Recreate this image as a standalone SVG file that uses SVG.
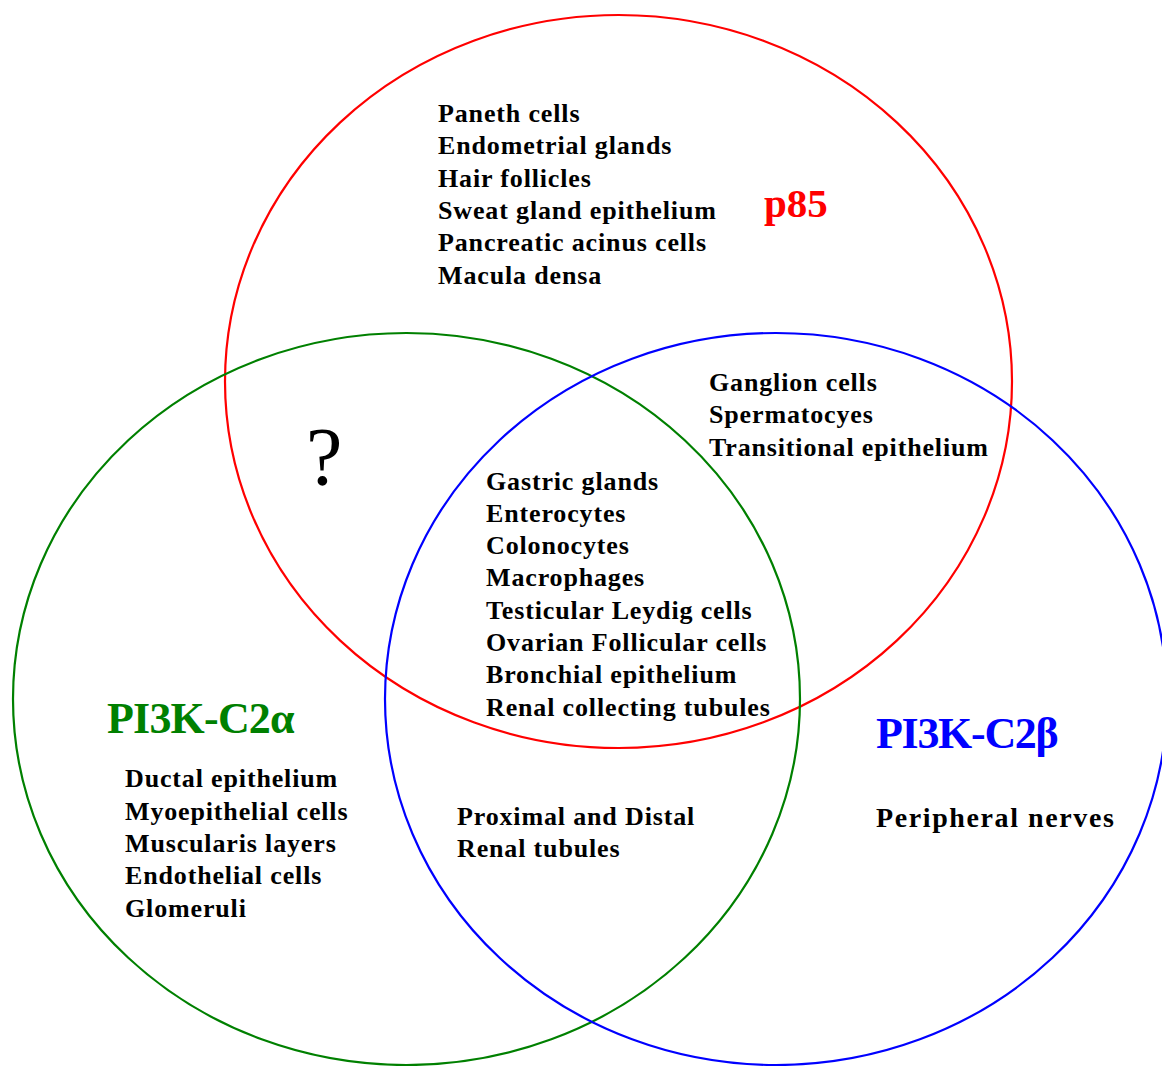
<svg xmlns="http://www.w3.org/2000/svg" width="1162" height="1066" viewBox="0 0 1162 1066">
<style>
.c{fill:none;stroke-width:2.2}
.t{font-family:"Liberation Serif","Times New Roman",serif;font-weight:bold;font-size:26px;fill:#000;letter-spacing:0.85px}
.h{font-family:"Liberation Serif","Times New Roman",serif;font-weight:bold}
</style>
<rect width="1162" height="1066" fill="#fff"/>
<g id="sets">
<g id="p85">
<ellipse class="c" cx="618.5" cy="381.5" rx="393.5" ry="366.5" stroke="#ff0000"/>
<text class="h" x="764" y="217" font-size="41" fill="#ff0000">p85</text>
</g>
<g id="c2alpha">
<ellipse class="c" cx="406.5" cy="699" rx="393.5" ry="366" stroke="#008000"/>
<text class="h" x="107" y="733" font-size="44" letter-spacing="-0.8" fill="#008000">PI3K-C2α</text>
</g>
<g id="c2beta">
<ellipse class="c" cx="776" cy="699" rx="391" ry="366" stroke="#0000ff"/>
<text class="h" x="876" y="748" font-size="44" letter-spacing="-1.3" fill="#0000ff">PI3K-C2β</text>
</g>
</g>
<g id="p85-only">
<text class="t"><tspan x="438" y="122">Paneth cells</tspan><tspan x="438" y="154.3">Endometrial glands</tspan><tspan x="438" y="186.6">Hair follicles</tspan><tspan x="438" y="218.9">Sweat gland epithelium</tspan><tspan x="438" y="251.2">Pancreatic acinus cells</tspan><tspan x="438" y="283.5">Macula densa</tspan></text>
</g>
<g id="p85-beta">
<text class="t"><tspan x="709" y="391">Ganglion cells</tspan><tspan x="709" y="423.3">Spermatocyes</tspan><tspan x="709" y="455.6">Transitional epithelium</tspan></text>
</g>
<g id="p85-alpha">
<text x="306" y="484" font-family="'Liberation Serif','Times New Roman',serif" font-size="82" fill="#000">?</text>
</g>
<g id="all-three">
<text class="t"><tspan x="486" y="489.5">Gastric glands</tspan><tspan x="486" y="521.8">Enterocytes</tspan><tspan x="486" y="554.1">Colonocytes</tspan><tspan x="486" y="586.4">Macrophages</tspan><tspan x="486" y="618.7">Testicular Leydig cells</tspan><tspan x="486" y="651">Ovarian Follicular cells</tspan><tspan x="486" y="683.3">Bronchial epithelium</tspan><tspan x="486" y="715.6">Renal collecting tubules</tspan></text>
</g>
<g id="alpha-only">
<text class="t"><tspan x="125" y="787.3">Ductal epithelium</tspan><tspan x="125" y="819.6">Myoepithelial cells</tspan><tspan x="125" y="851.9">Muscularis layers</tspan><tspan x="125" y="884.2">Endothelial cells</tspan><tspan x="125" y="916.5">Glomeruli</tspan></text>
</g>
<g id="alpha-beta">
<text class="t"><tspan x="457" y="824.5">Proximal and Distal</tspan><tspan x="457" y="856.8">Renal tubules</tspan></text>
</g>
<g id="beta-only">
<text class="t" x="876" y="827" style="font-size:28px;letter-spacing:1.6px">Peripheral nerves</text>
</g>
<g id="connectors"></g>
</svg>
